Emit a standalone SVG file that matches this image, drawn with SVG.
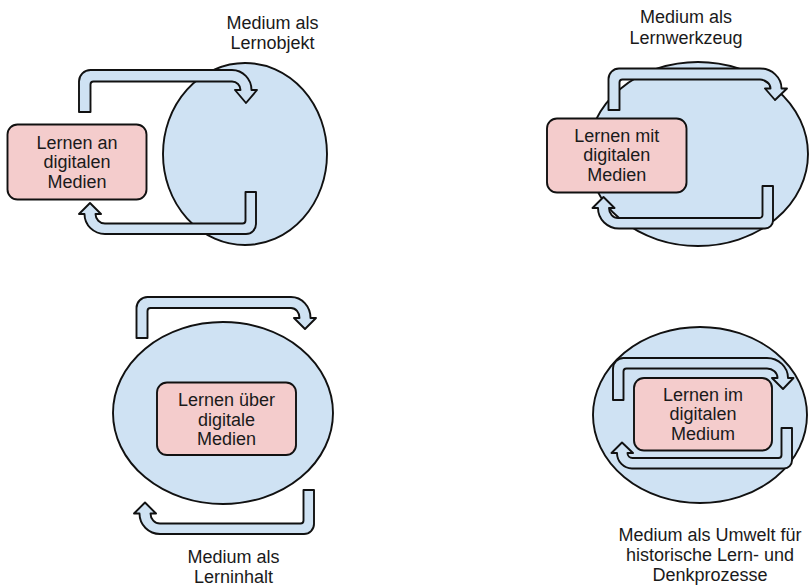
<svg xmlns="http://www.w3.org/2000/svg" width="810" height="587" viewBox="0 0 810 587">
<style>
.bg{fill:#ffffff}
.ell{fill:#cfe2f3;stroke:#111;stroke-width:1.9}
.box{fill:#f4cccc;stroke:#111;stroke-width:1.9}
.arr{fill:#cfe2f3;stroke:#111;stroke-width:1.9;stroke-linejoin:round}
text{font-family:"Liberation Sans",Arial,sans-serif;font-size:18px;fill:#1a1a1a;text-anchor:middle}
</style>
<rect class="bg" x="0" y="0" width="810" height="587"/>

<g id="ellipses">
<ellipse id="e-lernobjekt" class="ell" cx="245" cy="154" rx="82" ry="91"/>
<ellipse id="e-lernwerkzeug" class="ell" cx="698" cy="154" rx="110" ry="92"/>
<ellipse id="e-lerninhalt" class="ell" cx="223" cy="413" rx="110" ry="91"/>
<ellipse id="e-umwelt" class="ell" cx="700" cy="415" rx="107" ry="88"/>
</g>

<g id="connectors">
<path class="arr" d="M79,112 V81.5 A11.5,11.5 0 0 1 90.5,70 H232 A19.5,20 0 0 1 251.5,90 H257 L246,103 L235,90 H240.5 A8.5,8.5 0 0 0 232,81.5 H93.5 A3,3 0 0 0 90.5,84.5 V112 Z"/>
<path class="arr" d="M245.5,192 H256 V224 A10,10 0 0 1 246,234 H105 A20.5,20 0 0 1 84.5,214 H79 L90,203 L101,214 H95.5 A9.5,9.5 0 0 0 105,223.5 H242.5 A3,3 0 0 0 245.5,220.5 Z"/>

<path class="arr" d="M608.5,110 V79 A10.5,10.5 0 0 1 619,68.5 H760 A21.5,20 0 0 1 781.5,88.5 H787 L775,100 L765,88.5 H770.5 A10.5,9 0 0 0 760,79.5 H622.5 A3,3 0 0 0 619.5,82.5 V110 Z"/>
<path class="arr" d="M762.5,186 H773 V220.5 A8,8 0 0 1 765,228.5 H619 A21,20.5 0 0 1 598,208 H592.5 L603.5,197 L614.5,208 H609 A9,10 0 0 0 618,218 H759.5 A3,3 0 0 0 762.5,215 Z"/>

<path class="arr" d="M136.5,338 V308 A11,11 0 0 1 147.5,297 H291 A19.5,21 0 0 1 310.5,318 H316 L305,329 L294,318 H299.5 A8.5,10 0 0 0 291,308 H150.5 A3,3 0 0 0 147.5,311 V338 Z"/>
<path class="arr" d="M303.5,490 H314 V524 A10,10 0 0 1 304,534 H160 A20.5,20.5 0 0 1 139.5,513.5 H134 L145,502.5 L156,513.5 H150.5 A9.5,10 0 0 0 160,523.5 H300.5 A3,3 0 0 0 303.5,520.5 Z"/>

<path class="arr" d="M613,400 V368.5 A10.5,10.5 0 0 1 623.5,358 H767 A21,20 0 0 1 788,378 H793.5 L783,389 L772,378 H777.5 A10.5,9.5 0 0 0 767,368.5 H626.5 A3,3 0 0 0 623.5,371.5 V400 Z"/>
<path class="arr" d="M781.5,428 H792 V460.5 A8,8 0 0 1 784,468.5 H632 A15,15.5 0 0 1 617,453 H611.5 L622,442.5 L633,453 H627.5 A5,5 0 0 0 632.5,458 H778.5 A3,3 0 0 0 781.5,455 Z"/>
</g>

<g id="node-an">
<rect class="box" x="7.5" y="124.5" width="139" height="75" rx="10"/>
<text x="77" y="148.5">Lernen an</text>
<text x="77" y="168">digitalen</text>
<text x="77" y="187.5">Medien</text>
</g>
<g id="node-mit">
<rect class="box" x="547" y="118.5" width="139.5" height="74" rx="10"/>
<text x="616.7" y="141.5">Lernen mit</text>
<text x="616.7" y="161">digitalen</text>
<text x="616.7" y="180.5">Medien</text>
</g>
<g id="node-ueber">
<rect class="box" x="157" y="382.5" width="139" height="72.5" rx="10"/>
<text x="226.5" y="406">Lernen über</text>
<text x="226.5" y="425.5">digitale</text>
<text x="226.5" y="445">Medien</text>
</g>
<g id="node-im">
<rect class="box" x="634" y="378" width="138" height="72.5" rx="10"/>
<text x="703" y="400.5">Lernen im</text>
<text x="703" y="420">digitalen</text>
<text x="703" y="439.5">Medium</text>
</g>

<g id="label-lernobjekt">
<text x="272.5" y="29">Medium als</text>
<text x="272.5" y="48.5">Lernobjekt</text>
</g>
<g id="label-lernwerkzeug">
<text x="686" y="23">Medium als</text>
<text x="686" y="43.5">Lernwerkzeug</text>
</g>
<g id="label-lerninhalt">
<text x="233.5" y="563">Medium als</text>
<text x="233.5" y="583">Lerninhalt</text>
</g>
<g id="label-umwelt">
<text x="710" y="541">Medium als Umwelt für</text>
<text x="710" y="561">historische Lern- und</text>
<text x="710" y="581">Denkprozesse</text>
</g>
</svg>
